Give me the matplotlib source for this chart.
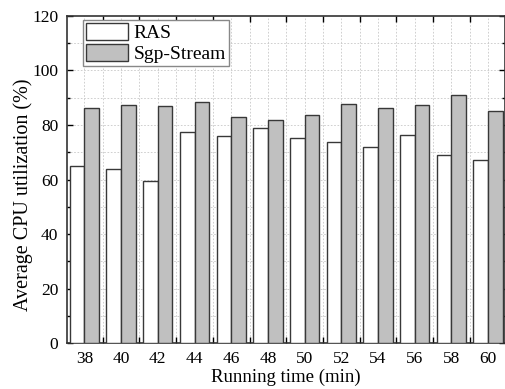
import matplotlib.pyplot as plt
import numpy as np

plt.rcParams['font.family'] = ['Liberation Serif', 'DejaVu Serif']

# Data
times = ['38', '40', '42', '44', '46', '48', '50', '52', '54', '56', '58', '60']
ras = [65.0, 63.7, 59.4, 77.3, 76.0, 78.8, 75.4, 73.6, 71.9, 76.3, 68.9, 67.0]
sgp = [86.2, 87.2, 87.0, 88.6, 82.8, 81.8, 83.7, 87.8, 86.3, 87.2, 90.9, 85.1]

fig = plt.figure(figsize=(5.06, 3.89), dpi=100)
ax = fig.add_axes([0.132, 0.118, 0.866, 0.841])

x = np.arange(len(times))
width = 0.4
edge = '#383838'

ax.bar(x - width/2, ras, width, color='white', edgecolor=edge, linewidth=1.0, label='RAS', zorder=3)
ax.bar(x + width/2, sgp, width, color='#c0c0c0', edgecolor=edge, linewidth=1.0, label='Sgp-Stream', zorder=3)

ax.set_xlim(-0.48, len(times) - 0.54)
ax.set_ylim(0, 120)

# labels at group centres, tick marks at group boundaries
ax.set_xticks(x)
ax.set_xticklabels(times, fontsize=12.5)
ax.tick_params(axis='x', which='major', length=0, pad=6)
ax.set_xticks(x[:-1] + 0.5, minor=True)
ax.tick_params(axis='x', which='minor', direction='in', length=4, top=True, bottom=True, width=1)

ax.set_yticks(np.arange(0, 121, 20))
ax.set_yticks(np.arange(10, 120, 20), minor=True)
ax.tick_params(axis='y', which='major', direction='in', length=4, left=True, right=True,
               labelsize=12.5, width=1, pad=6)
ax.tick_params(axis='y', which='minor', direction='in', length=2, left=True, right=True, width=1)

# dotted grid
for v in np.arange(10, 120, 10):
    ax.axhline(v, color='#c8c8c8', linestyle=(0, (2, 2)), linewidth=0.6, zorder=0)
for v in np.arange(0, len(times) - 0.5, 0.5):
    ax.axvline(v, color='#c8c8c8', linestyle=(0, (2, 2)), linewidth=0.6, zorder=0)

for s in ax.spines.values():
    s.set_linewidth(1.2)
    s.set_color('#333333')

ax.set_xlabel('Running time (min)', fontsize=13.5, labelpad=1)
ax.set_ylabel('Average CPU utilization (%)', fontsize=14.5)
ax.yaxis.set_label_coords(-0.078, 0.453)

leg = ax.legend(loc='upper left', bbox_to_anchor=(0.0365, 0.988), fontsize=14, fancybox=False,
                edgecolor='#888888', handlelength=2.15, handleheight=1.0, borderaxespad=0,
                borderpad=0.15, labelspacing=0.1, handletextpad=0.3, framealpha=1)
leg.get_frame().set_linewidth(1.0)

plt.savefig('out.png', dpi=100)
